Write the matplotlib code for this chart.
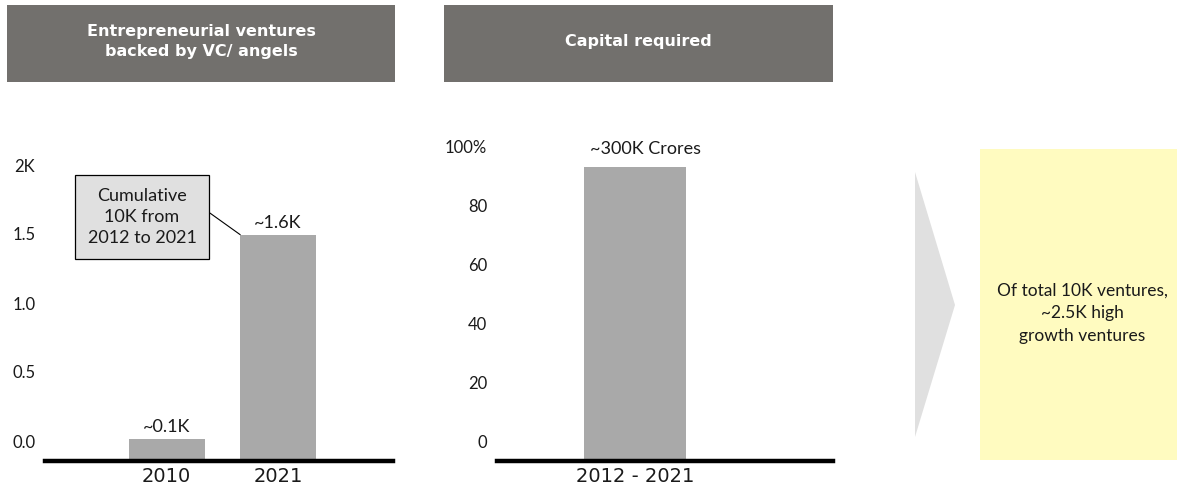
import numpy as np
import matplotlib
matplotlib.use("Agg")
import matplotlib.pyplot as plt
from matplotlib.patches import Rectangle, Polygon

plt.rcParams['font.family'] = ['Lato', 'DejaVu Sans']

# data
ventures_years  = ["2010", "2021"]
ventures_vals   = [0.16, 1.64]          # K ventures
ventures_labels = ["~0.1K", "~1.6K"]
ventures_ticks  = [0.0, 0.5, 1.0, 1.5, 2.0]
ventures_tlabs  = ["0.0", "0.5", "1.0", "1.5", "2K"]

capital_period = ["2012 - 2021"]
capital_vals   = [100]
capital_labels = ["~300K Crores"]
capital_ticks  = [0, 20, 40, 60, 80, 100]
capital_tlabs  = ["0", "20", "40", "60", "80", "100%"]

header_left  = "Entrepreneurial ventures\nbacked by VC/ angels"
header_mid   = "Capital required"
callout_text = "Cumulative\n10K from\n2012 to 2021"
summary_text = "Of total 10K ventures,\n~2.5K high\ngrowth ventures"

W, H = 1177, 493
HEAD_C = "#72706d"
BAR_C  = "#a9a9a9"
TXT_C  = "#1a1a1a"
LABEL_SHIFT = 20   # px, tick labels sit above their grid value in the original

fig = plt.figure(figsize=(W / 100, H / 100), dpi=100)

def px_box(x0, y0, x1, y1):
    # pixel box (top-left origin) -> figure fraction rect
    return [x0 / W, (H - y1) / H, (x1 - x0) / W, (y1 - y0) / H]

def header(x0, x1, text):
    l, b, w, h = px_box(x0, 5, x1, 82)
    fig.patches.append(Rectangle((l, b), w, h, transform=fig.transFigure,
                                 facecolor=HEAD_C, edgecolor="none"))
    fig.text(l + w / 2, b + h / 2 + 0.004, text, ha="center", va="center",
             color="white", fontsize=11.5, fontweight="bold",
             family="DejaVu Sans", linespacing=1.4)

def style_axis(ax, ticks, tlabs, px_per_unit):
    for s in ["top", "right", "left"]:
        ax.spines[s].set_visible(False)
    ax.spines["bottom"].set_linewidth(3.2)
    ax.spines["bottom"].set_color("black")
    ax.tick_params(length=0)
    shift = LABEL_SHIFT / px_per_unit
    ax.set_yticks([t + shift for t in ticks])
    ax.set_yticklabels(tlabs, fontsize=12, color=TXT_C)
    ax.tick_params(axis="y", pad=7)
    ax.tick_params(axis="x", pad=4)
    for lab in ax.get_xticklabels():
        lab.set_fontsize(14)
        lab.set_family("DejaVu Sans")
        lab.set_color(TXT_C)

# headers
header(7, 395, header_left)
header(444, 833, header_mid)

# left chart: ventures
PPU1 = 138
ax1 = fig.add_axes(px_box(45, 140, 393, 461))
x1 = np.arange(len(ventures_years))
ax1.bar(x1, ventures_vals, width=0.68, color=BAR_C)
ax1.set_xlim(-1.09, 2.03)
ax1.set_ylim(0, 321 / PPU1)
ax1.set_xticks(x1)
ax1.set_xticklabels(ventures_years)
style_axis(ax1, ventures_ticks, ventures_tlabs, PPU1)
for xi, v, t in zip(x1, ventures_vals, ventures_labels):
    ax1.annotate(t, (xi, v), xytext=(0, 3), textcoords="offset points",
                 ha="center", va="bottom", fontsize=13, color=TXT_C)
ax1.annotate(callout_text, xy=(x1[1] - 0.34, ventures_vals[1]),
             xytext=(-0.22, 1.77), textcoords="data",
             ha="center", va="center", fontsize=13, color=TXT_C,
             linespacing=1.38,
             bbox=dict(boxstyle="square,pad=0.72", fc="#e0e0e0", ec="black", lw=0.9),
             arrowprops=dict(arrowstyle="-", color="black", lw=0.8,
                             relpos=(1.0, 0.73), shrinkA=0, shrinkB=0))

# middle chart: capital
PPU2 = 2.94
ax2 = fig.add_axes(px_box(497, 140, 833, 461))
x2 = np.arange(len(capital_period))
ax2.bar(x2, capital_vals, width=0.6, color=BAR_C)
ax2.set_xlim(-0.81, 1.165)
ax2.set_ylim(0, 321 / PPU2)
ax2.set_xticks(x2)
ax2.set_xticklabels(capital_period)
style_axis(ax2, capital_ticks, capital_tlabs, PPU2)
for xi, v, t in zip(x2, capital_vals, capital_labels):
    ax2.annotate(t, (xi, v), xytext=(8, 7), textcoords="offset points",
                 ha="center", va="bottom", fontsize=13, color=TXT_C)

# chevron arrow
chev = np.array([[915, 172], [955, 305], [915, 437]], dtype=float)
chev_fig = np.column_stack([chev[:, 0] / W, (H - chev[:, 1]) / H])
fig.patches.append(Polygon(chev_fig, closed=True, transform=fig.transFigure,
                           facecolor="#e0e0e0", edgecolor="none"))

# summary box
l, b, w, h = px_box(980, 149, 1177, 460)
fig.patches.append(Rectangle((l, b), w, h, transform=fig.transFigure,
                             facecolor="#fffbc0", edgecolor="none"))
fig.text(1082 / W, (H - 313) / H, summary_text, ha="center", va="center",
         fontsize=12.5, color=TXT_C, linespacing=1.5)

fig.savefig("out.png", dpi=100)
